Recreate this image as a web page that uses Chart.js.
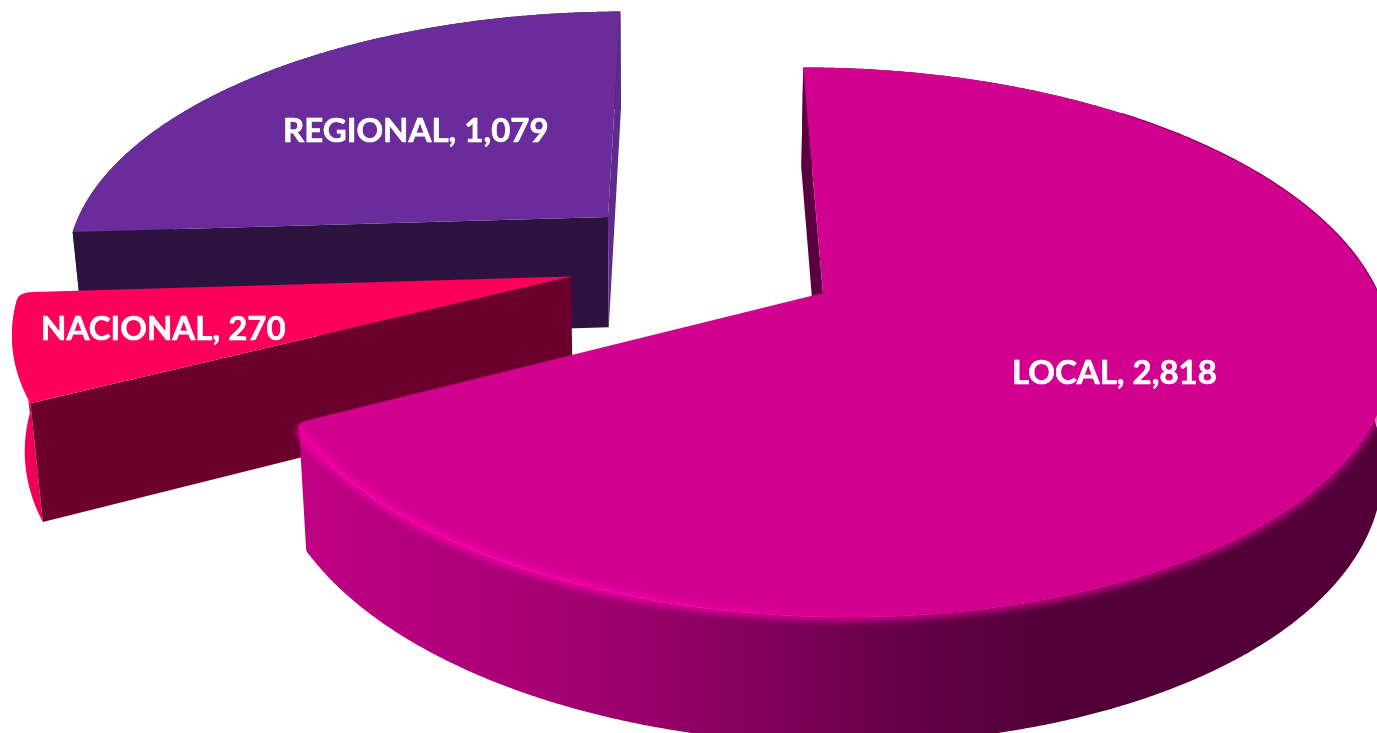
<!DOCTYPE html>
<html>
<head>
<meta charset="utf-8">
<title>Pie</title>
<style>
  html, body { margin: 0; padding: 0; background: #fff; overflow: hidden; }
  canvas { display: block; }
</style>
<script src="https://cdn.jsdelivr.net/npm/chart.js@4"></script>
</head>
<body>
<canvas id="myChart" width="1377" height="733"></canvas>
<script>
const categories = ['LOCAL', 'NACIONAL', 'REGIONAL'];
const values = [2818, 270, 1079];

// look of each slice, same order as categories
const topColors = ['#d2008e', '#fc005c', '#6a2c9b'];
const cutColors = ['#5a0040', '#6b002c', '#2d1440'];
const rimColors = ['#520037', '#f20058', '#2d1440'];
const innerCutColor = '#5f2a8e';

// explode: slice apex in the flat plane, radius scale against the library's radius
const apexA = [114, -139.5, -106.5];
const apexB = [0, -35, -167];
const radiusScale = [1.515, 1.505, 1.523];
const labelX = [1012, 41, 283];
const labelY = [384, 340, 142];

// perspective of the plane
const vanishX = 709, originY = 293, squash = 0.479, tilt = 0.000323;

function project(a, b) {
  const w = 1 - tilt * b;
  return { x: vanishX + a / w, y: originY + squash * b / w, w: w };
}

function drop(p) { // same point on the underside
  const lean = p.x < 650 ? 0.02 : 0.012;
  return { x: p.x + (650 - p.x) * lean, y: p.y + 185 - 71 * p.w };
}

function tracePath(ctx, pts, close) {
  ctx.beginPath();
  pts.forEach((p, i) => { if (i === 0) ctx.moveTo(p.x, p.y); else ctx.lineTo(p.x, p.y); });
  if (close) ctx.closePath();
}

function fillPoly(ctx, pts, color) {
  tracePath(ctx, pts, true);
  ctx.fillStyle = color;
  ctx.fill();
}

// top face, with the far end corner of the rim rounded off when asked
function fillTop(ctx, apex, outer, cut, color) {
  const n = outer.length - 1;
  const k = n - cut;
  const corner = outer[n];
  ctx.beginPath();
  ctx.moveTo(apex.x, apex.y);
  for (let s = 0; s <= k; s++) ctx.lineTo(outer[s].x, outer[s].y);
  if (cut > 0) {
    const f = 14 / Math.hypot(apex.x - corner.x, apex.y - corner.y);
    ctx.quadraticCurveTo(corner.x, corner.y, corner.x + (apex.x - corner.x) * f, corner.y + (apex.y - corner.y) * f);
  }
  ctx.closePath();
  ctx.fillStyle = color;
  ctx.fill();
}

const pie3d = {
  id: 'pie3d',
  beforeDatasetDraw(chart, args) {
    const ctx = chart.ctx;
    const arcs = chart.getDatasetMeta(args.index).data;
    ctx.save();
    [2, 1, 0].forEach(i => {
      const arc = arcs[i];
      const r = arc.outerRadius * radiusScale[i];
      const apex = project(apexA[i], apexB[i]);
      const outer = [];
      const sweep = arc.endAngle - arc.startAngle;
      const steps = Math.round(sweep / 0.005);
      for (let s = 0; s <= steps; s++) {
        const t = arc.startAngle + sweep * s / steps;
        outer.push(project(apexA[i] + r * Math.cos(t), apexB[i] + r * Math.sin(t)));
      }
      const first = outer[0];
      const last = outer[steps];
      const cut = i === 2 ? 0 : 5;

      // outer wall
      let rim = rimColors[i];
      if (i === 0) {
        rim = ctx.createLinearGradient(297, 0, 1060, 0);
        rim.addColorStop(0, '#c00084');
        rim.addColorStop(0.25, '#ad0078');
        rim.addColorStop(0.5, '#930066');
        rim.addColorStop(0.8, '#640047');
        rim.addColorStop(1, '#520037');
      }
      const rimTop = outer.slice(0, steps + 1 - cut);
      fillPoly(ctx, rimTop.concat(rimTop.map(drop).reverse()), rim);

      // flat walls at the cuts
      fillPoly(ctx, [apex, first, drop(first), drop(apex)], cutColors[i]);
      if (i === 2) fillPoly(ctx, [apex, last, drop(last), drop(apex)], innerCutColor);

      // top face
      fillTop(ctx, apex, outer, cut, topColors[i]);

      if (i === 0) {
        // thin dark edge on the far right of the rim
        tracePath(ctx, outer.filter(p => p.x > 1120 && p.y < 310), false);
        ctx.strokeStyle = '#8a0060';
        ctx.lineWidth = 1.2;
        ctx.stroke();

        // soft bevel along the near rim
        const bevel = ctx.createLinearGradient(600, 0, 960, 0);
        bevel.addColorStop(0, '#fb00ad');
        bevel.addColorStop(1, topColors[0]);
        ctx.save();
        ctx.filter = 'blur(3.5px)';
        tracePath(ctx, outer.filter((p, s) => s < steps - 3 && p.y > 300), false);
        ctx.strokeStyle = bevel;
        ctx.lineWidth = 7;
        ctx.stroke();
        ctx.restore();
      }
    });

    // labels
    ctx.fillStyle = '#ffffff';
    ctx.strokeStyle = '#ffffff';
    ctx.lineWidth = 0.6;
    ctx.font = 'bold 33px Lato';
    ctx.textBaseline = 'alphabetic';
    categories.forEach((c, i) => {
      const text = c + ', ' + values[i].toLocaleString('en-US');
      ctx.fillText(text, labelX[i], labelY[i]);
      ctx.strokeText(text, labelX[i], labelY[i]);
    });
    ctx.restore();
    return false;
  }
};

const chart = new Chart(document.getElementById('myChart'), {
  type: 'pie',
  data: {
    labels: categories,
    datasets: [{ data: values, backgroundColor: topColors, borderWidth: 0 }]
  },
  options: {
    responsive: false,
    animation: false,
    rotation: -0.3,
    plugins: { legend: { display: false }, tooltip: { enabled: false } }
  },
  plugins: [pie3d]
});
</script>
</body>
</html>
